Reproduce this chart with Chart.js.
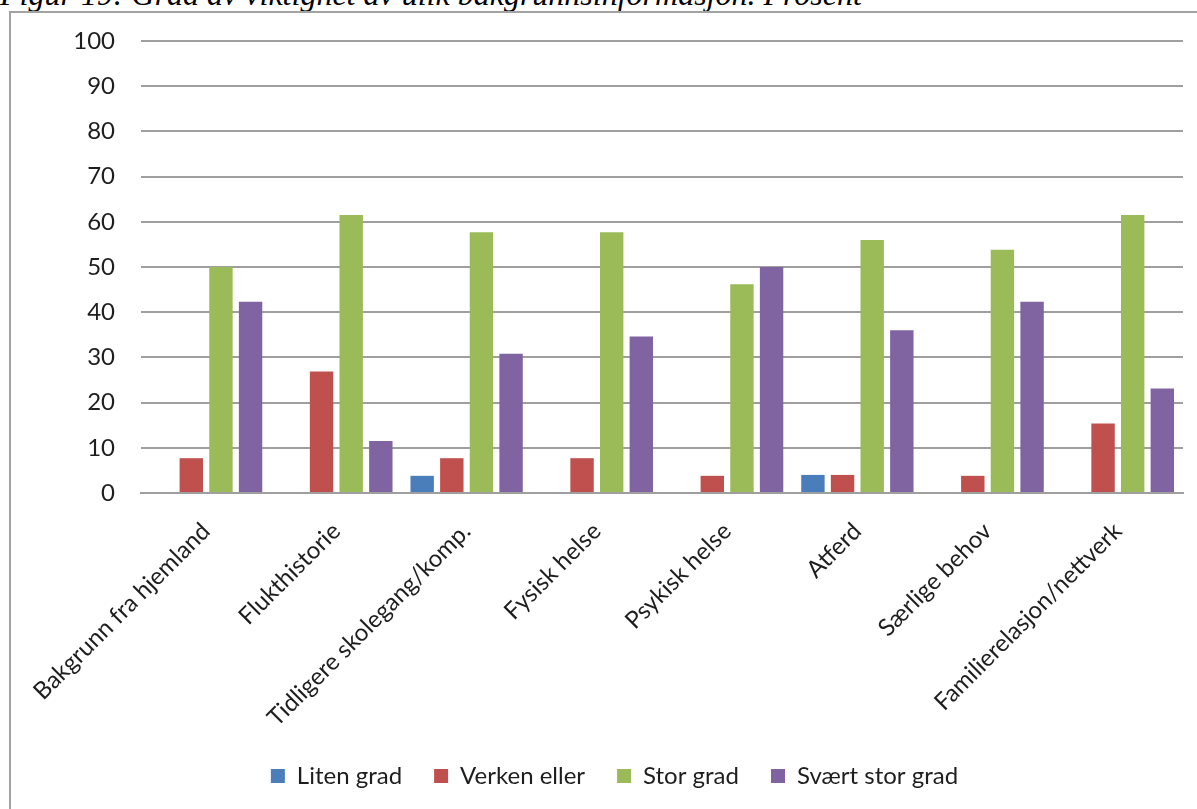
<!DOCTYPE html>
<html lang="no">
<head>
  <meta charset="UTF-8">
  <title>Grad av viktighet av ulik bakgrunnsinformasjon</title>
  <script src="https://cdn.jsdelivr.net/npm/chart.js"></script>
  <style>
    html, body { margin: 0; padding: 0; background: #fff; overflow: hidden; }
    body { width: 1197px; height: 809px; position: relative; }
    #title {
      position: absolute; left: 0; top: -22px; white-space: nowrap;
      font-family: "Liberation Serif", "Times New Roman", serif; font-style: italic;
      font-size: 32px; line-height: 32px; color: #000;
    }
    #frame {
      position: absolute; left: 9px; top: 11px; width: 1300px; height: 900px;
      border-left: 2px solid #a3a3a3; border-top: 2px solid #a3a3a3;
    }
    #wrap { position: absolute; left: 0; top: 0; width: 1197px; height: 870px; }
  </style>
</head>
<body>
  <div id="title">Figur 19: Grad av viktighet av ulik bakgrunnsinformasjon. Prosent</div>
  <div id="frame"></div>
  <div id="wrap"><canvas id="chart"></canvas></div>

  <script>
    // kategorier og verdier (prosent), lest av figuren
    const kategorier = ["Bakgrunn fra hjemland", "Flukthistorie", "Tidligere skolegang/komp.", "Fysisk helse",
                        "Psykisk helse", "Atferd", "Særlige behov", "Familierelasjon/nettverk"];
    const litenGrad     = [0, 0, 3.8, 0, 0, 4.0, 0, 0];
    const verkenEller   = [7.7, 26.9, 7.7, 7.7, 3.8, 4.0, 3.8, 15.4];
    const storGrad      = [50.0, 61.5, 57.7, 57.7, 46.2, 56.0, 53.8, 61.5];
    const svaertStorGrad = [42.3, 11.5, 30.8, 34.6, 50.0, 36.0, 42.3, 23.1];
    const yTicks = [0, 10, 20, 30, 40, 50, 60, 70, 80, 90, 100];

    const FONT = "Lato";
    const textColor = "#1e1e1e";
    const gridColor = "#9f9f9f";

    const ctx = document.getElementById("chart").getContext("2d");
    const chart = new Chart(ctx, {
      type: "bar",
      data: {
        labels: kategorier,
        datasets: [
          { label: "Liten grad", data: litenGrad, backgroundColor: "#4a7ebb" },
          { label: "Verken eller", data: verkenEller, backgroundColor: "#c0504d" },
          { label: "Stor grad", data: storGrad, backgroundColor: "#9bbb59" },
          { label: "Svært stor grad", data: svaertStorGrad, backgroundColor: "#8064a2" }
        ]
      },
      options: {
        responsive: true,
        maintainAspectRatio: false,
        animation: false,
        categoryPercentage: 0.91,
        barPercentage: 0.79,
        // venstre padding flytter legenden mot midten av rammen
        layout: { padding: { top: 41, right: 14, bottom: 72, left: 46 } },
        plugins: {
          tooltip: { enabled: false },
          legend: {
            position: "bottom",
            labels: {
              boxWidth: 14, boxHeight: 14, padding: 32,
              color: textColor,
              font: { family: FONT, size: 24 }
            }
          }
        },
        scales: {
          x: {
            grid: { display: false, drawTicks: false, tickLength: 0 },
            border: { display: true, color: gridColor, width: 2 },
            ticks: {
              autoSkip: false, minRotation: 45, maxRotation: 45, padding: 24,
              color: textColor, font: { family: FONT, size: 24 }
            },
            afterFit: (scale) => { scale.height = 239; }
          },
          y: {
            min: 0, max: 100,
            grid: { color: gridColor, lineWidth: 2, drawTicks: false, tickLength: 0 },
            border: { display: false },
            afterBuildTicks: (scale) => { scale.ticks = yTicks.map(v => ({ value: v })); },
            ticks: {
              padding: 26, color: textColor,
              font: { family: FONT, size: 24 }
            },
            afterFit: (scale) => { scale.width = 95; }
          }
        }
      }
    });
  </script>
</body>
</html>
